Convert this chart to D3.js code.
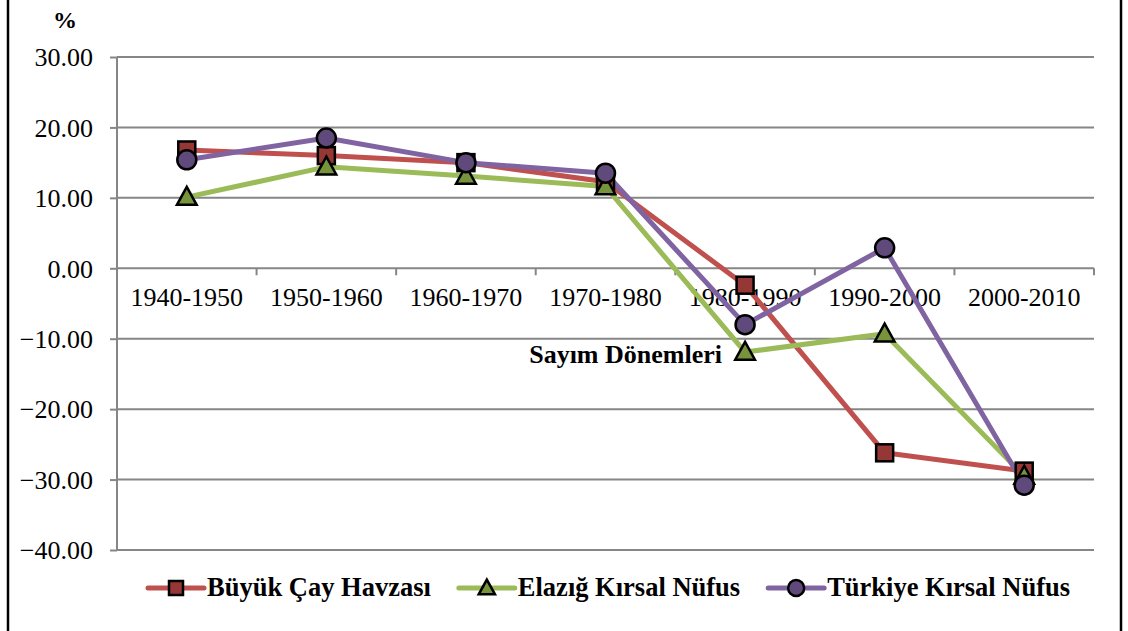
<!DOCTYPE html>
<meta charset="utf-8">
<style>
 body { margin: 0; background: #fff; }
 .axis text { font: 26px "Liberation Serif", "Times New Roman", serif; fill: #000; }
 .axis path { display: none; }
 .axis line { stroke: #868686; stroke-width: 2; }
 .grid line { stroke: #868686; stroke-width: 2; }
 .bold { font: bold 26px "Liberation Serif", "Times New Roman", serif; fill: #000; }
</style>
<body>
<svg width="1128" height="631"></svg>
<script src="https://d3js.org/d3.v7.min.js"></script>
<script>

 var periods = ["1940-1950", "1950-1960", "1960-1970", "1970-1980", "1980-1990", "1990-2000", "2000-2010"];
 var buyukCay = [16.8, 16.0, 15.0, 12.3, -2.4, -26.2, -28.8];
 var elazig = [10.1, 14.4, 13.1, 11.6, -11.9, -9.3, -29.5];
 var turkiye = [15.4, 18.5, 15.0, 13.5, -8.0, 2.9, -30.8];
 var yTicks = [-40, -30, -20, -10, 0, 10, 20, 30];

 var series = [
     {name: "Büyük Çay Havzası", values: buyukCay, line: "#C0504D", fill: "#953735", shape: "square"},
     {name: "Elazığ Kırsal Nüfus", values: elazig, line: "#9BBB59", fill: "#77933C", shape: "triangle"},
     {name: "Türkiye Kırsal Nüfus", values: turkiye, line: "#8064A2", fill: "#604A7B", shape: "circle"}
 ];

 var svg = d3.select("svg");
 var plotLeft = 117, plotRight = 1094, plotTop = 57, plotBottom = 550;

 // frame
 svg.append("rect")
    .attr("x", 8).attr("y", -10).attr("width", 1113).attr("height", 660)
    .attr("fill", "none").attr("stroke", "#000").attr("stroke-width", 2.5);

 var x = d3.scaleBand().domain(periods).range([plotLeft, plotRight]).padding(0);
 var y = d3.scaleLinear().domain([-40, 30]).range([plotBottom, plotTop]);

 // grid
 svg.append("g").attr("class", "grid")
    .selectAll("line").data(yTicks).enter().append("line")
    .attr("x1", plotLeft).attr("x2", plotRight)
    .attr("y1", d => y(d)).attr("y2", d => y(d));

 // y axis
 var yAxis = svg.append("g").attr("class", "axis")
    .attr("transform", `translate(${plotLeft},0)`)
    .call(d3.axisLeft(y).tickValues(yTicks).tickFormat(d3.format(".2f")).tickSize(7).tickPadding(17));
 yAxis.selectAll("text").attr("dy", "0.34em");
 svg.append("line")
    .attr("x1", plotLeft).attr("x2", plotLeft).attr("y1", plotTop).attr("y2", plotBottom)
    .attr("stroke", "#868686").attr("stroke-width", 2);

 // x axis at zero
 var xg = svg.append("g").attr("class", "axis")
    .attr("transform", `translate(0,${y(0)})`)
    .call(d3.axisBottom(x).tickSize(0).tickPadding(19));
 xg.selectAll("text").attr("dy", "0.71em");
 xg.selectAll("line.bound").data(periods.map(p => x(p)).concat([x.range()[1]])).enter()
   .append("line").attr("class", "bound")
   .attr("x1", d => d).attr("x2", d => d).attr("y1", 0).attr("y2", 7);

 svg.append("text").attr("class", "bold")
    .attr("x", 722).attr("y", 363).attr("text-anchor", "end")
    .text("Sayım Dönemleri");

 svg.append("text").attr("class", "bold")
    .attr("x", 65).attr("y", 28).attr("text-anchor", "middle")
    .style("font-size", "24px")
    .text("%");

 function marker(g, shape, s, fill) {
     var m;
     if (shape === "square") {
         m = g.append("rect").attr("x", -s / 2).attr("y", -s / 2).attr("width", s).attr("height", s);
     } else if (shape === "circle") {
         m = g.append("circle").attr("r", s / 2 + 1);
     } else {
         m = g.append("path").attr("d", `M0,${-s * 0.6}L${s * 0.58},${s * 0.45}L${-s * 0.58},${s * 0.45}Z`);
     }
     m.attr("fill", fill).attr("stroke", "#000").attr("stroke-width", 2.5);
 }

 var line = d3.line()
     .x((d, i) => x(periods[i]) + x.bandwidth() / 2)
     .y(d => y(d));

 series.forEach(function(s) {
     svg.append("path")
        .attr("d", line(s.values))
        .attr("fill", "none")
        .attr("stroke", s.line)
        .attr("stroke-width", 5)
        .attr("stroke-linejoin", "round");
 });
 series.forEach(function(s) {
     s.values.forEach(function(v, i) {
         var g = svg.append("g")
            .attr("transform", `translate(${x(periods[i]) + x.bandwidth() / 2},${y(v)})`);
         marker(g, s.shape, 17, s.fill);
     });
 });

 // legend
 var lx = 148, ly = 588;
 series.forEach(function(s) {
     var g = svg.append("g").attr("transform", `translate(${lx},${ly})`);
     g.append("line").attr("x1", 0).attr("x2", 56).attr("y1", 0).attr("y2", 0)
      .attr("stroke", s.line).attr("stroke-width", 5).attr("stroke-linecap", "round");
     var mg = g.append("g").attr("transform", "translate(28,0)");
     marker(mg, s.shape, 14, s.fill);
     var t = g.append("text").attr("class", "bold")
      .attr("x", 59).attr("y", 8).style("font-size", "26.5px").text(s.name);
     lx += 59 + t.node().getComputedTextLength() + 28;
 });

</script>
</body>
